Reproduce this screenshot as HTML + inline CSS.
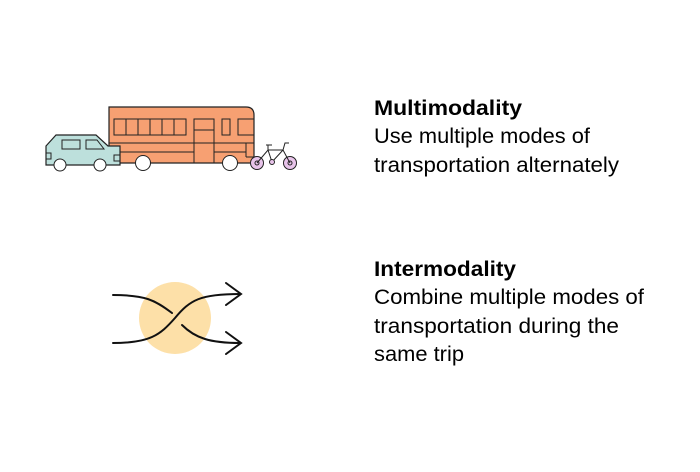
<!DOCTYPE html>
<html><head><style>html,body{margin:0;padding:0;background:#fff}</style></head><body>
<svg width="700" height="467" viewBox="0 0 700 467" xmlns="http://www.w3.org/2000/svg" font-family="Liberation Sans, DejaVu Sans, sans-serif" font-size="21" fill="#000">
<!-- bus -->
<path d="M109 107 H246 Q254 107 254 115 V163 H109 Z" fill="#f7a072" stroke="#222" stroke-width="1.2"/>
<g stroke="#222" stroke-width="1" fill="none">
<rect x="114" y="119" width="72" height="16"/>
<line x1="126" y1="119" x2="126" y2="135"/><line x1="138" y1="119" x2="138" y2="135"/><line x1="150" y1="119" x2="150" y2="135"/><line x1="162" y1="119" x2="162" y2="135"/><line x1="174" y1="119" x2="174" y2="135"/>
<rect x="194" y="119" width="20" height="44"/><line x1="194" y1="130" x2="214" y2="130"/>
<rect x="222" y="119" width="8" height="16"/><rect x="238" y="119" width="16" height="16"/>
<line x1="109" y1="143" x2="254" y2="143"/><line x1="109" y1="152" x2="194" y2="152"/><line x1="214" y1="152" x2="246" y2="152"/>
<line x1="246" y1="143" x2="246" y2="157"/><line x1="246" y1="157" x2="254" y2="157"/>
</g>
<circle cx="143" cy="163" r="7.5" fill="#fff" stroke="#222"/>
<circle cx="230" cy="163" r="7.5" fill="#fff" stroke="#222"/>
<!-- car -->
<path d="M46 146 L56 135 H96 L108 146 H120 V165 H46 Z" fill="#bde0dc" stroke="#222" stroke-width="1.2"/>
<rect x="62" y="140" width="18" height="9" fill="none" stroke="#222"/>
<path d="M86 140 H97 L104 149 H86 Z" fill="none" stroke="#222"/>
<rect x="46" y="153" width="5" height="6" fill="none" stroke="#222"/>
<rect x="114" y="155" width="6" height="6" fill="none" stroke="#222"/>
<circle cx="60" cy="165" r="6" fill="#fff" stroke="#222"/>
<circle cx="100" cy="165" r="6" fill="#fff" stroke="#222"/>
<!-- bike -->
<g stroke="#222" stroke-width="1" fill="#e8c4ea">
<circle cx="257" cy="163" r="6.5"/><circle cx="290" cy="163" r="6.5"/>
<circle cx="257" cy="163" r="2" fill="none"/><circle cx="290" cy="163" r="2" fill="none"/>
<path d="M257 163 L268 150 L272 162 L283 150 L290 163 M268 150 H283 M266 145 H272 M268 145 V150 M283 150 L285 143 H289" fill="none"/>
<circle cx="272" cy="162" r="2.5"/>
</g>
<!-- intermodality icon -->
<circle cx="175" cy="318" r="36" fill="#fde0a8"/>
<g stroke="#111" stroke-width="2" fill="none" stroke-linecap="round">
<path d="M113 295 C145 295 155 300 172 313"/>
<path d="M113 343 C150 343 160 335 175 318 C190 300 200 294 240 294"/>
<path d="M182 325 C195 338 210 343 240 343"/>
<path d="M226 283 L241 294 L226 305"/>
<path d="M226 332 L241 343 L226 354"/>
</g>
<!-- text -->
<g lengthAdjust="spacingAndGlyphs">
<text x="374" y="115" font-weight="bold" textLength="148" lengthAdjust="spacingAndGlyphs">Multimodality</text>
<text x="374" y="143" textLength="216" lengthAdjust="spacingAndGlyphs">Use multiple modes of</text>
<text x="374" y="172" textLength="245" lengthAdjust="spacingAndGlyphs">transportation alternately</text>
<text x="374" y="276" font-weight="bold" textLength="142" lengthAdjust="spacingAndGlyphs">Intermodality</text>
<text x="374" y="304" textLength="270" lengthAdjust="spacingAndGlyphs">Combine multiple modes of</text>
<text x="374" y="333" textLength="245" lengthAdjust="spacingAndGlyphs">transportation during the</text>
<text x="374" y="361" textLength="90" lengthAdjust="spacingAndGlyphs">same trip</text>
</g>
</svg>
</body></html>
